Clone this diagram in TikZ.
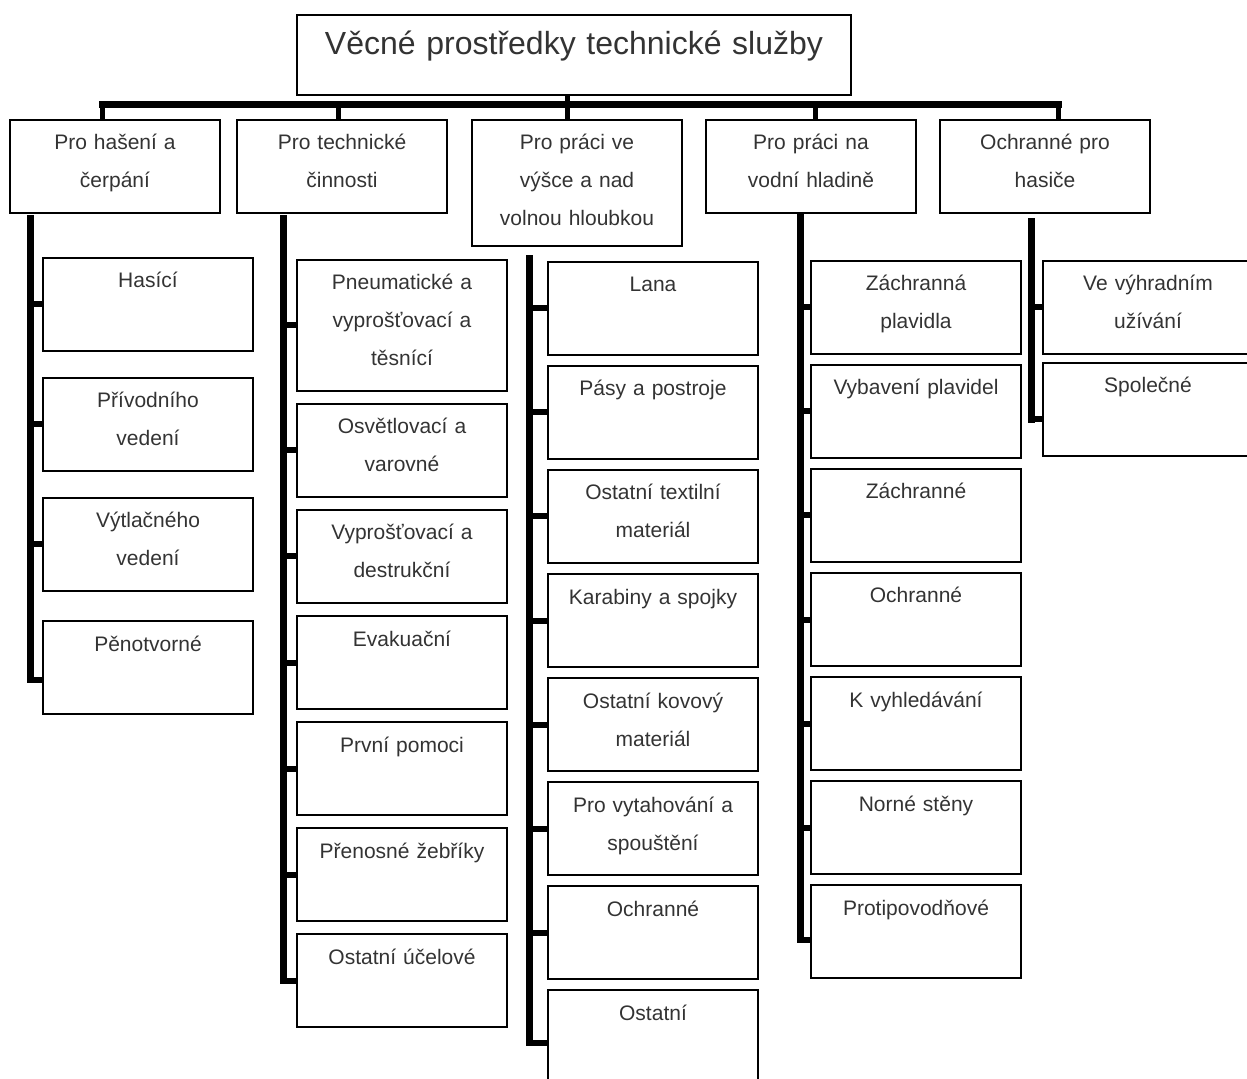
\documentclass[tikz,border=0pt]{standalone}
\usepackage{fontspec}
\setmainfont{Liberation Sans}
\usetikzlibrary{positioning}

\begin{document}
\begin{tikzpicture}[x=0.5pt, y=-0.5pt, node distance=5.5pt,
      every node/.append style={align=center, text=black!80,
                                font=\fontsize{10.5}{19}\selectfont},
      box/.style={draw, line width=0.9pt, anchor=north west,
                  text width=105pt, inner xsep=0pt, inner ysep=0pt,
                  outer sep=0pt, text height=15pt, text depth=31.5pt},
      tallbox/.style={box, text depth=50.5pt},
      trunk/.style={line width=3.5pt, line cap=rect},
      tick/.style={line width=3pt},
      bus/.style={line width=3.5pt, line cap=rect},
      link/.style={line width=2.5pt}]

     \useasboundingbox (0,0) rectangle (1247,1079);

     \node [box, text width=277pt, text height=20pt, text depth=20pt,
            font=\fontsize{16}{19}\selectfont] (top) at (297,15)
           {Věcné prostředky technické služby};

     % first level
     \node [box] (A) at (10,120) {Pro hašení a\\čerpání};
     \node [box, right=8.5pt of A.north east, anchor=north west] (B) {Pro technické\\činnosti};
     \node [box, text depth=48pt, right=12.5pt of B.north east, anchor=north west] (C)
           {Pro práci ve\\výšce a nad\\volnou hloubkou};
     \node [box, right=12pt of C.north east, anchor=north west] (D) {Pro práci na\\vodní hladině};
     \node [box, right=12pt of D.north east, anchor=north west] (E) {Ochranné pro\\hasiče};

     % second level
     \node [box] (A1) at (43,258) {Hasící};
     \node [box, below=13.5pt of A1] (A2) {Přívodního\\vedení};
     \node [box, below=13.5pt of A2] (A3) {Výtlačného\\vedení};
     \node [box, below=15pt of A3] (A4) {Pěnotvorné};

     \node [tallbox] (B1) at (297,260) {Pneumatické a\\vyprošťovací a\\těsnící};
     \node [box, below=6.5pt of B1] (B2) {Osvětlovací a\\varovné};
     \node [box, below=6.5pt of B2] (B3) {Vyprošťovací a\\destrukční};
     \node [box, below=6.5pt of B3] (B4) {Evakuační};
     \node [box, below=6.5pt of B4] (B5) {První pomoci};
     \node [box, below=6.5pt of B5] (B6) {Přenosné žebříky};
     \node [box, below=6.5pt of B6] (B7) {Ostatní účelové};

     \node [box] (C1) at (548,262) {Lana};
     \node [box, below=of C1] (C2) {Pásy a postroje};
     \node [box, below=of C2] (C3) {Ostatní textilní\\materiál};
     \node [box, below=of C3] (C4) {Karabiny a spojky};
     \node [box, below=of C4] (C5) {Ostatní kovový\\materiál};
     \node [box, below=of C5] (C6) {Pro vytahování a\\spouštění};
     \node [box, below=of C6] (C7) {Ochranné};
     \node [box, below=of C7] (C8) {Ostatní};

     \node [box] (D1) at (811,261) {Záchranná\\plavidla};
     \node [box, below=of D1] (D2) {Vybavení plavidel};
     \node [box, below=of D2] (D3) {Záchranné};
     \node [box, below=of D3] (D4) {Ochranné};
     \node [box, below=of D4] (D5) {K vyhledávání};
     \node [box, below=of D5] (D6) {Norné stěny};
     \node [box, below=of D6] (D7) {Protipovodňové};

     \node [box] (E1) at (1043,261) {Ve výhradním\\užívání};
     \node [box, below=4.5pt of E1] (E2) {Společné};

     % bus under the title
     \coordinate (busL) at (102,105);
     \coordinate (busR) at (1058,105);
     \coordinate (mid)  at (567,105);
     \draw[bus] (busL) -- (busR);
     \draw[link] (top.south -| mid) -- (mid |- C.north);
     \draw[link] (busL) -- (busL |- A.north);
     \draw[link] (338,105) -- (338,120);
     \draw[link] (815,105) -- (815,120);
     \draw[link] (busR) -- (busR |- E.north);

     % trunks
     \coordinate (tA) at (30,219);
     \coordinate (tB) at (283,219);
     \coordinate (tC) at (529,259);
     \coordinate (tD) at (800,217);
     \coordinate (tE) at (1031,222);
     \coordinate (eA) at ([yshift=-6pt]A4.west);
     \coordinate (eB) at (B7.west);
     \coordinate (eC) at ([yshift=-3pt]C8.west);
     \coordinate (eD) at ([yshift=-4pt]D7.west);
     \coordinate (eE) at ([yshift=-5pt]E2.west);

     \draw[trunk] (tA) -- (tA |- eA);
     \draw[trunk] (tB) -- (tB |- eB);
     \draw[trunk] (tC) -- (tC |- eC);
     \draw[trunk] (tD) -- (tD |- eD);
     \draw[trunk] (tE) -- (tE |- eE);

     \draw[tick] (tA |- A1.west) -- (A1.west) (tA |- A2.west) -- (A2.west)
                 (tA |- A3.west) -- (A3.west) (tA |- eA) -- (eA);
     \draw[tick] (tB |- B1.west) -- (B1.west) (tB |- B2.west) -- (B2.west)
                 (tB |- B3.west) -- (B3.west) (tB |- B4.west) -- (B4.west)
                 (tB |- B5.west) -- (B5.west) (tB |- B6.west) -- (B6.west)
                 (tB |- eB) -- (eB);
     \draw[tick] (tC |- C1.west) -- (C1.west) (tC |- C2.west) -- (C2.west)
                 (tC |- C3.west) -- (C3.west) (tC |- C4.west) -- (C4.west)
                 (tC |- C5.west) -- (C5.west) (tC |- C6.west) -- (C6.west)
                 (tC |- C7.west) -- (C7.west) (tC |- eC) -- (eC);
     \draw[tick] (tD |- D1.west) -- (D1.west) (tD |- D2.west) -- (D2.west)
                 (tD |- D3.west) -- (D3.west) (tD |- D4.west) -- (D4.west)
                 (tD |- D5.west) -- (D5.west) (tD |- D6.west) -- (D6.west)
                 (tD |- eD) -- (eD);
     \draw[tick] (tE |- E1.west) -- (E1.west) (tE |- eE) -- (eE);
  \end{tikzpicture}
\end{document}
